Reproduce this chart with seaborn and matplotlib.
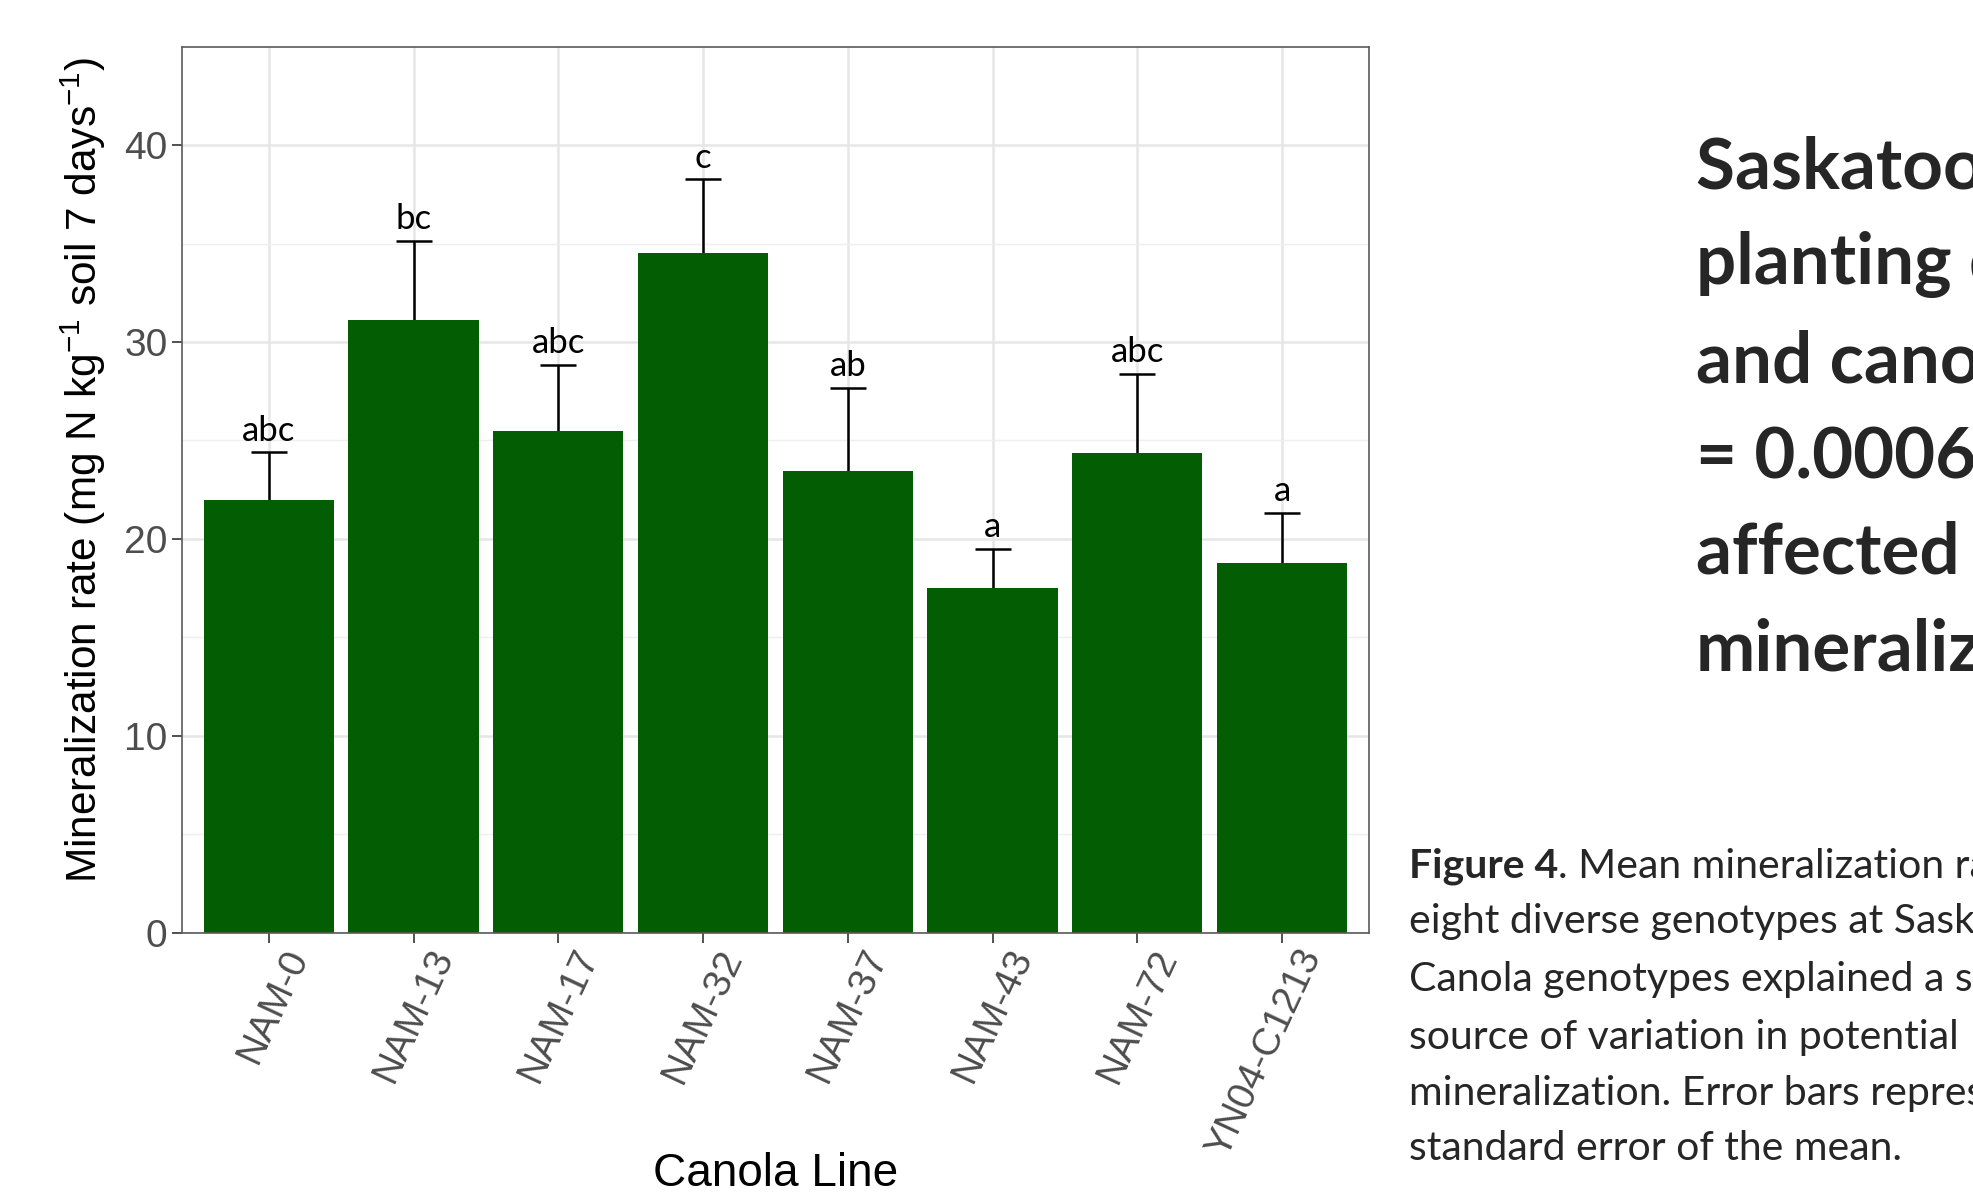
import pandas as pd
import seaborn as sns
import matplotlib.pyplot as plt
import matplotlib.transforms as mtransforms
import numpy as np

# Data
lines = ["NAM-0", "NAM-13", "NAM-17", "NAM-32", "NAM-37", "NAM-43", "NAM-72", "YN04-C1213"]
means = [22.0, 31.1, 25.5, 34.5, 23.45, 17.5, 24.35, 18.8]
se = [2.40, 4.03, 3.34, 3.77, 4.24, 2.00, 4.04, 2.54]
letters = ["abc", "bc", "abc", "c", "ab", "a", "abc", "a"]

title_lines = ["Saskatoon: both", "planting date", "and canola line (P", "= 0.0006) significantly",
               "affected potential N", "mineralization"]
caption_lines = [". Mean mineralization rate of",
                 "eight diverse genotypes at Saskatoon.",
                 "Canola genotypes explained a significant",
                 "source of variation in potential N",
                 "mineralization. Error bars represent",
                 "standard error of the mean."]

df = pd.DataFrame({"line": lines, "rate": means, "se": se})

sns.set_theme(style="whitegrid")
plt.rcParams['font.family'] = ['Liberation Sans', 'DejaVu Sans']
plt.rcParams['mathtext.default'] = 'regular'

fig = plt.figure(figsize=(19.73, 11.97), dpi=100)
ax = fig.add_axes([0.0922, 0.2208, 0.6016, 0.7402])

sns.barplot(data=df, x="line", y="rate", color="#035e03", saturation=1, width=0.9,
            errorbar=None, ax=ax)
for p in ax.patches:
    p.set_zorder(2)
    p.set_edgecolor("none")

# only the upper half of the error bar shows
x = np.arange(len(lines))
eb = ax.errorbar(x, df["rate"], yerr=[np.zeros(len(lines)), df["se"]], fmt="none",
                 ecolor="black", elinewidth=1.8, capsize=13, capthick=1.8, zorder=1)
for cl in eb[1]:
    if np.allclose(cl.get_ydata(), means):
        cl.set_visible(False)

for i, lab in enumerate(letters):
    ax.text(i, means[i] + se[i] + 1.1, lab, ha="center", va="center", fontsize=25,
            family=["Lato", "DejaVu Sans"], color="black", zorder=3)

ax.set_xlim(-0.6, 7.6)
ax.set_ylim(0, 45)
ax.set_yticks([0, 10, 20, 30, 40])
ax.set_yticks([5, 15, 25, 35], minor=True)
ax.set_axisbelow(True)
ax.grid(which="major", color="#E6E6E6", linewidth=1.8)
ax.grid(which="minor", axis="y", color="#EFEFEF", linewidth=1.0)
ax.set_facecolor("white")
for s in ax.spines.values():
    s.set_color("#5a5a5a")
    s.set_linewidth(1.2)

ax.tick_params(axis="both", which="major", length=7, width=1.2, color="#333333",
               labelsize=28, labelcolor="#4D4D4D", left=True, bottom=True)
ax.tick_params(axis="y", which="minor", length=0)
plt.setp(ax.get_xticklabels(), rotation=65, ha="right", va="top", rotation_mode="anchor")

ax.set_xlabel("Canola Line", fontsize=33, color="black", va="top")
ax.xaxis.set_label_coords(0.5, -0.248)
ax.set_ylabel("Mineralization rate (mg N kg$^{-1}$ soil 7 days$^{-1}$)", fontsize=30.5, color="black")
ax.yaxis.set_label_coords(-0.062, 0.522)

# nudge the slanted tick labels right, like the source
shift = mtransforms.ScaledTranslation(0.14, 0.04, fig.dpi_scale_trans)
for lab in ax.get_xticklabels():
    lab.set_transform(lab.get_transform() + shift)

# slide text on the right, clipped by the edge as in the source
title_y = [168, 264, 361, 457, 554, 650]
for t, yy in zip(title_lines, title_y):
    fig.text(0.8596, 1 - yy / 1197, t, fontsize=51, fontweight="bold",
             family=["Lato", "DejaVu Sans"], ha="left", va="center")

cap_y = [866, 922, 979, 1037, 1093, 1148]
fig.canvas.draw()
fig_lab = fig.text(0.7141, 1 - cap_y[0] / 1197, "Figure 4", fontsize=29.5, fontweight="bold",
                   family=["Lato", "DejaVu Sans"], ha="left", va="center")
fig.canvas.draw()
bb = fig_lab.get_window_extent().transformed(fig.transFigure.inverted())
fig.text(bb.x1, 1 - cap_y[0] / 1197, caption_lines[0], fontsize=29.5,
         family=["Lato", "DejaVu Sans"], ha="left", va="center")
for t, yy in zip(caption_lines[1:], cap_y[1:]):
    fig.text(0.7141, 1 - yy / 1197, t, fontsize=29.5,
             family=["Lato", "DejaVu Sans"], ha="left", va="center")

fig.savefig("out.png", dpi=100, facecolor="white")
